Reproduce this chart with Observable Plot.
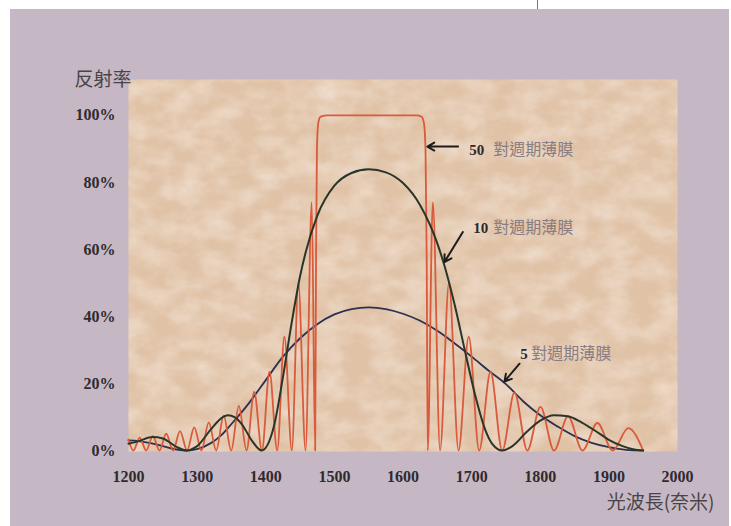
<!DOCTYPE html>
<html><head><meta charset="utf-8">
<script src="https://cdn.jsdelivr.net/npm/d3@7"></script>
<script src="https://cdn.jsdelivr.net/npm/@observablehq/plot@0.6"></script>
<style>
body{margin:0;background:#fff;}
#wrap{position:relative;width:731px;height:526px;overflow:hidden;background:#fff;}
#bg{position:absolute;left:10px;top:9px;width:719px;height:517px;background:#c5b8c4;}
#tick{position:absolute;left:537px;top:0;width:1px;height:9px;background:#777;}
#chart{position:absolute;left:0;top:0;}
</style></head><body>
<div id="wrap"><div id="bg"></div><div id="tick"></div><div id="chart"></div></div>
<script>
// axis ticks
const xTicks = [1200,1300,1400,1500,1600,1700,1800,1900,2000];
const yTicks = [0,20,40,60,80,100];

// 5 pairs (nm, %)
const wl5 = [1200,1215,1230,1250,1270,1285,1300,1320,1335,1350,1375,1400,1425,1450,1475,1500,1525,1550,1575,1600,1625,1650,1675,1700,1725,1750,1775,1800,1825,1850,1875,1900,1925,1950];
const r5  = [3.0,2.8,2.3,1.3,0.3,0,0.4,2.2,4.5,7.9,14,21,28,33.5,37.7,40.6,42.2,42.7,42.2,40.8,38.7,35.7,32,28,23.8,19.8,14.7,10.5,7.2,4.3,2.3,1,0.2,0];

// 10 pairs
const wl10 = [1200,1215,1235,1250,1270,1285,1300,1320,1335,1345,1355,1365,1380,1394,1412,1425,1437.5,1450,1458,1475,1500,1525,1550,1575,1600,1625,1650,1660,1675,1690,1705,1720,1730,1745,1760,1780,1800,1820,1840,1860,1880,1900,1920,1935,1950];
const r10  = [2.0,2.8,4.0,3.6,1.1,0,1.3,6.3,9.6,10.5,9.9,7.9,2.9,0,7.3,21.8,37.8,52,59,70,79,82.8,83.9,83,79.8,73.2,61.8,55.4,43.7,30,16.6,6.1,2,0,1.4,5.5,8.9,10.5,10.2,8.4,5.9,3.2,1.3,0.4,0];

// 50 pairs
const wl50 = [1200,1207.1,1216.4,1225.8,1235.4,1245.1,1255,1265,1275.1,1285.4,1295.8,1306.3,1317,1327.8,1338.7,1349.7,1360.8,1372,1383.2,1394.4,1405.5,1416.7,1427.2,1438,1447.5,1458,1467,1472,1473.3,1474.6,1476.5,1480,1490,1550,1620,1627,1630.5,1632.8,1634.5,1636,1643.5,1654,1667,1680.9,1695.8,1711,1727.5,1744.6,1762.5,1781.1,1800.3,1820.1,1840.5,1861.6,1883.3,1905.5,1928.3,1950];
const r50  = [3.3,0,3.8,0,4.3,0,5.0,0,5.8,0,6.9,0,8.4,0,10.4,0,13.3,0,17.5,0,23.5,0,34,0,50,0,74,0,58,90,97.7,99.6,100,100,100,99.6,97.7,90,58,0,74,0,50,0,34,0,23.5,0,17.3,0,13,0,10.2,0,8.2,0,6.7,0];

// annotations
const annNum = ["50","10","5"];
const annText = ["對週期薄膜","對週期薄膜","對週期薄膜"];
const annWl = [1696.4,1702.2,1770.8];
const annTextWl = [1731.4,1731.4,1786.9];
const annR = [89.6,66.3,28.7];
const arrWl1 = [1680.3,1687.2,1769.8], arrR1 = [90.7,65.2,25.9];
const arrWl2 = [1635.5,1660.3,1747.9], arrR2 = [90.7,56.2,20.6];

const rows = (xs, ys) => xs.map((x,i)=>({wl:x, r:ys[i]}));
const ann = annNum.map((n,i)=>({n, t:annText[i], wl:annWl[i], twl:annTextWl[i], r:annR[i]}));
const arr = arrWl1.map((w,i)=>({x1:w,y1:arrR1[i],x2:arrWl2[i],y2:arrR2[i]}));

const cjk = "'Noto Sans CJK TC','Noto Sans CJK SC',sans-serif";
const plot = Plot.plot({
  width:731, height:526,
  marginLeft:128, marginRight:54, marginTop:79, marginBottom:75,
  style:{background:"transparent", fontFamily:"'Liberation Serif', serif", overflow:"visible"},
  x:{domain:[1200,2000]},
  y:{domain:[-0.3,110.7]},
  marks:[
    Plot.frame({fill:"#e0c2a6", stroke:null}),
    Plot.frame({fill:"#ffffff", stroke:null, className:"paper"}),
    Plot.axisX({ticks:xTicks, tickFormat:d=>String(d), tickSize:0, tickPadding:19, fontSize:16, fontWeight:"bold", fill:"#302b2e", label:null}),
    Plot.axisY({ticks:yTicks, tickFormat:d=>d+"%", tickSize:0, tickPadding:13, fontSize:16, fontWeight:"bold", fill:"#302b2e", label:null}),
    Plot.line(rows(wl5,r5), {x:"wl", y:"r", stroke:"#2b3150", strokeWidth:1.8, curve:"monotone-x"}),
    Plot.line(rows(wl50,r50), {x:"wl", y:"r", stroke:"#d95a3c", strokeWidth:1.8, curve:"monotone-x"}),
    Plot.line(rows(wl10,r10), {x:"wl", y:"r", stroke:"#28362a", strokeWidth:2, curve:"monotone-x"}),
    Plot.arrow(arr, {x1:"x1", y1:"y1", x2:"x2", y2:"y2", stroke:"#1c1c1c", strokeWidth:2, headLength:6}),
    Plot.text(ann, {x:"wl", y:"r", text:"n", textAnchor:"start", fontSize:15, fontWeight:"bold", fill:"#2c2a2c"}),
    Plot.text(ann, {x:"twl", y:"r", text:"t", textAnchor:"start", fontSize:16, fill:"#877d82", fontFamily:cjk, style:"letter-spacing:1px"}),
    Plot.text(["反射率"], {frameAnchor:"top-left", dx:-54, dy:-7, textAnchor:"start", fontSize:19, fill:"#4a4448", fontFamily:cjk}),
    Plot.text(["光波長(奈米)"], {frameAnchor:"bottom-right", dx:37, dy:57, textAnchor:"end", fontSize:19, fill:"#4a4448", fontFamily:cjk})
  ]
});
// subtle parchment mottling
const ns = "http://www.w3.org/2000/svg";
const defs = document.createElementNS(ns,"defs");
defs.innerHTML = `<filter id="paper" x="0" y="0" width="100%" height="100%">
<feTurbulence type="fractalNoise" baseFrequency="0.035 0.05" numOctaves="4" seed="11" result="n"/>
<feColorMatrix in="n" type="matrix" values="0 0 0 0 0.98  0 0 0 0 0.92  0 0 0 0 0.88  0.8 0 0 0 -0.25" result="c"/>
<feComposite in="c" in2="SourceGraphic" operator="in"/></filter>`;
plot.insertBefore(defs, plot.firstChild);
const p = plot.querySelector(".paper") || plot.querySelectorAll("rect")[1];
if (p) p.setAttribute("filter","url(#paper)");
document.getElementById("chart").appendChild(plot);
</script>
</body></html>
